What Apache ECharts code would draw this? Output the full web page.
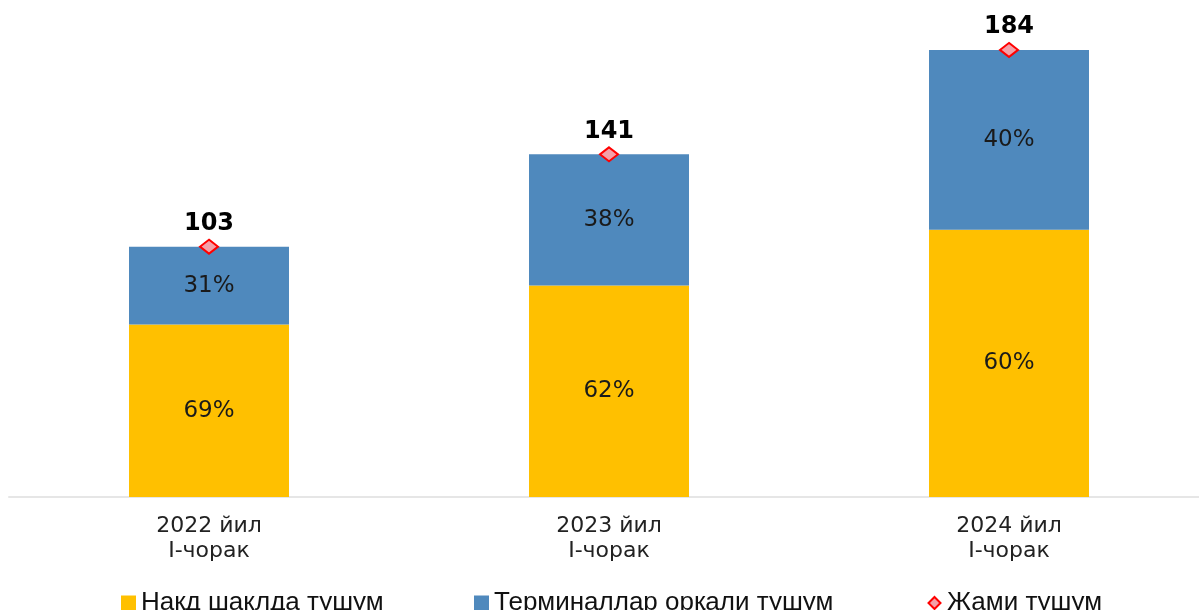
<!DOCTYPE html>
<html><head><meta charset="utf-8">
<script src="https://cdn.jsdelivr.net/npm/echarts@6/dist/echarts.min.js"></script>
<style>html,body{margin:0;padding:0;background:#fff;overflow:hidden}#c{width:1215px;height:610px}</style>
</head><body><div id="c"></div>
<script>
const categories = ['2022 йил\nІ-чорак', '2023 йил\nІ-чорак', '2024 йил\nІ-чорак'];
const cashValues = [71, 87, 110];
const terminalValues = [32, 54, 74];
const totalValues = [103, 141, 184];
const seriesNames = ['Нақд шаклда тушум', 'Терминаллар орқали тушум', 'Жами тушум'];

const pct = (arr) => (p) => Math.round(arr[p.dataIndex] / totalValues[p.dataIndex] * 100) + '%';
const font = 'DejaVu Sans, sans-serif';
const lfont = 'Liberation Sans, Arial, sans-serif';
const chart = echarts.init(document.getElementById('c'));
const legendText = {fontSize: 26, color: '#111', fontFamily: lfont};
chart.setOption({
  animation: false,
  grid: {left: 9, right: 6, top: 11, bottom: 113, containLabel: false},
  xAxis: {
    type: 'category', data: categories,
    axisLine: {lineStyle: {color: '#e6e6e6', width: 2}},
    axisTick: {show: false},
    axisLabel: {fontSize: 22, color: '#222', fontFamily: font, lineHeight: 25, margin: 17}
  },
  yAxis: {type: 'value', min: 0, max: 200, show: false, splitLine: {show: false}},
  legend: [
    {left: 116, top: 585, icon: 'rect', itemWidth: 15, itemHeight: 15, itemGap: 0, textStyle: legendText, data: [seriesNames[0]]},
    {left: 469, top: 585, icon: 'rect', itemWidth: 15, itemHeight: 15, textStyle: legendText, data: [seriesNames[1]]},
    {left: 921, top: 585, itemWidth: 15, itemHeight: 15, textStyle: legendText, data: [seriesNames[2]]}
  ],
  series: [
    {name: seriesNames[0], type: 'bar', stack: 's', barWidth: '40%', data: cashValues,
     itemStyle: {color: '#FFC000'},
     label: {show: true, position: 'inside', formatter: pct(cashValues), fontSize: 23, color: '#1a1a1a', fontFamily: font}},
    {name: seriesNames[1], type: 'bar', stack: 's', data: terminalValues,
     itemStyle: {color: '#4F89BD'},
     label: {show: true, position: 'inside', formatter: pct(terminalValues), fontSize: 23, color: '#1a1a1a', fontFamily: font}},
    {name: seriesNames[2], type: 'line', data: totalValues,
     lineStyle: {opacity: 0}, symbol: 'diamond', symbolSize: [18, 14],
     itemStyle: {color: '#F4A0A8', borderColor: '#FF0000', borderWidth: 2},
     label: {show: true, position: 'top', distance: 3, fontSize: 24, fontWeight: 'bold', color: '#000', fontFamily: font}}
  ]
});
</script></body></html>
